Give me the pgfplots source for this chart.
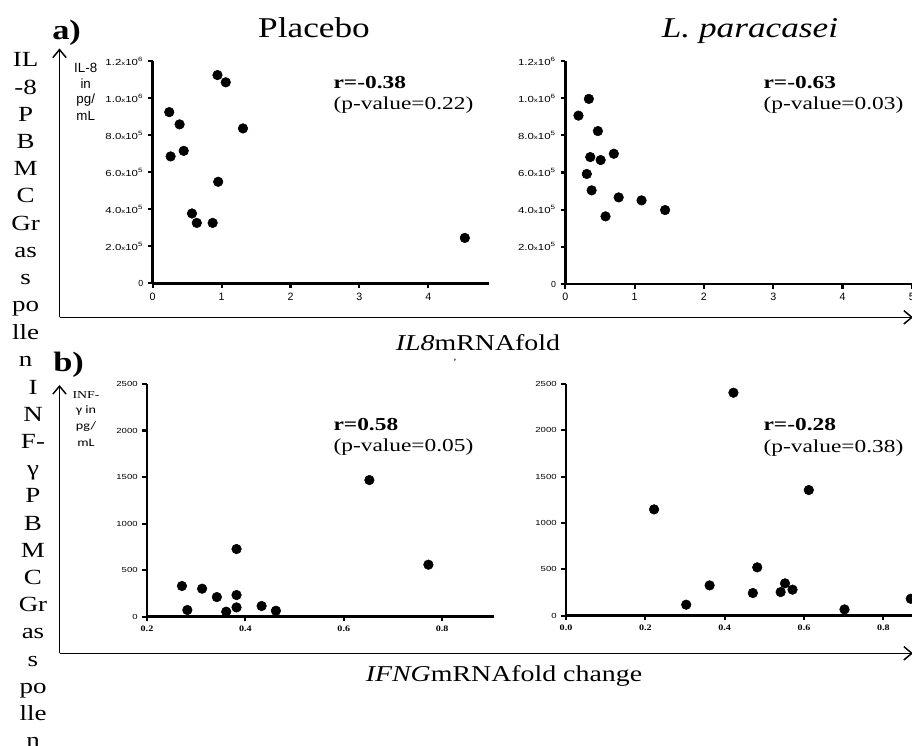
\documentclass[border=0pt]{standalone}
\usepackage{fontspec}
\setmainfont{Liberation Serif}
\setsansfont{Liberation Sans}
\newfontfamily\carlito{Carlito}
\usepackage{graphicx}
\usepackage{pgfplots}
\pgfplotsset{compat=1.18}
\usetikzlibrary{arrows.meta}

\newcommand\sx[2][1.23]{\scalebox{#1}[1]{#2}}
\newcommand\fs[1]{\fontsize{#1}{#1}\selectfont}
\newcommand\ylab[2]{\sx[1.3]{#1{\fs{4.5}x}10\textsuperscript{#2}}}

\pgfplotsset{
  panel/.style={
    scale only axis, anchor=south west,
    axis x line=bottom, axis y line=left,
    axis line style={-, line width=2.2pt, black},
    tick align=outside, major tick length=3.5pt,
    tick style={black, line width=1.6pt},
    minor tick num=0, clip=false,
    scaled y ticks=false, scaled x ticks=false,
    ymin=0,
  },
  dots/.style={only marks, mark=*, mark size=3.6pt, black, mark options={fill=black}},
}

\begin{document}
\begin{tikzpicture}
\path[use as bounding box] (0,0) rectangle (684pt,-558.75pt);

% a) Placebo
\begin{axis}[panel, at={(114.53pt,-212.48pt)}, width=252.45pt, height=166.73pt,
  xmin=0, xmax=4.885, ymax=1200000,
  xtick={0,1,2,3,4}, xticklabels={0,1,2,3,4},
  ytick={0,200000,400000,600000,800000,1000000,1200000},
  yticklabels={0,\ylab{2.0}{5},\ylab{4.0}{5},\ylab{6.0}{5},\ylab{8.0}{5},\ylab{1.0}{6},\ylab{1.2}{6}},
  xticklabel style={font=\sffamily\fs{8}},
  yticklabel style={font=\sffamily\fs{6.6}}]
\addplot[dots] coordinates {
  (0.94,1124000) (1.06,1085000) (0.24,924000) (0.39,858000)
  (1.31,836000) (0.45,715000) (0.26,685000) (0.95,548000)
  (0.57,377000) (0.64,326000) (0.87,326000) (4.53,245000)
};
\end{axis}

% a) L. paracasei
\begin{axis}[panel, at={(423.98pt,-213pt)}, width=259.88pt, height=167.25pt,
  xmin=0, xmax=5, ymax=1200000,
  xtick={0,1,2,3,4,5}, xticklabels={0,1,2,3,4,5},
  ytick={0,200000,400000,600000,800000,1000000,1200000},
  yticklabels={0,\ylab{2.0}{5},\ylab{4.0}{5},\ylab{6.0}{5},\ylab{8.0}{5},\ylab{1.0}{6},\ylab{1.2}{6}},
  xticklabel style={font=\sffamily\fs{8}},
  yticklabel style={font=\sffamily\fs{6.6}}]
\addplot[dots] coordinates {
  (0.34,996000) (0.19,906000) (0.47,823000) (0.36,683000)
  (0.51,667000) (0.70,701000) (0.31,592000) (0.38,504000)
  (0.77,466000) (1.10,450000) (0.58,364000) (1.44,398000)
};
\end{axis}

% b) Placebo
\begin{axis}[panel, at={(110.25pt,-462.53pt)}, width=260.48pt, height=174.53pt,
  xmin=0.2, xmax=0.906, ymax=2500,
  xtick={0.2,0.4,0.6,0.8}, xticklabels={\sx[1.2]{0.2},\sx[1.2]{0.4},\sx[1.2]{0.6},\sx[1.2]{0.8}},
  ytick={0,500,1000,1500,2000,2500},
  yticklabels={\sx[1.3]{0},\sx[1.3]{500},\sx[1.3]{1000},\sx[1.3]{1500},\sx[1.3]{2000},\sx[1.3]{2500}},
  xticklabel style={font=\bfseries\fs{6.3}},
  yticklabel style={font=\sffamily\fs{5.5}}]
\addplot[dots] coordinates {
  (0.271,330) (0.282,72) (0.312,301) (0.342,211)
  (0.361,54) (0.382,727) (0.382,233) (0.382,100)
  (0.433,115) (0.462,64) (0.652,1468) (0.772,559)
};
\end{axis}

% b) L. paracasei
\begin{axis}[panel, at={(424.5pt,-461.78pt)}, width=261.83pt, height=173.78pt,
  xmin=0, xmax=0.88, ymax=2500,
  xtick={0,0.2,0.4,0.6,0.8}, xticklabels={\sx[1.2]{0.0},\sx[1.2]{0.2},\sx[1.2]{0.4},\sx[1.2]{0.6},\sx[1.2]{0.8}},
  ytick={0,500,1000,1500,2000,2500},
  yticklabels={\sx[1.3]{0},\sx[1.3]{500},\sx[1.3]{1000},\sx[1.3]{1500},\sx[1.3]{2000},\sx[1.3]{2500}},
  xticklabel style={font=\bfseries\fs{6.3}},
  yticklabel style={font=\sffamily\fs{5.5}}]
\addplot[dots] coordinates {
  (0.422,2406) (0.222,1147) (0.612,1356) (0.482,522)
  (0.362,327) (0.303,119) (0.471,245) (0.541,255)
  (0.552,349) (0.571,281) (0.702,68) (0.869,183)
};
\end{axis}

\begin{scope}[x=0.75pt,y=-0.75pt]
  % frame arrows
  \draw[line width=1.1pt, -{Straight Barb[length=6pt,width=10pt]}] (59.5,317.3) -- (59.5,48.5);
  \draw[line width=1.1pt, -{Straight Barb[length=6pt,width=10pt]}] (59.5,317.3) -- (913,317.3);
  \draw[line width=1.1pt, -{Straight Barb[length=6pt,width=10pt]}] (59.5,653.3) -- (59.5,385);
  \draw[line width=1.1pt, -{Straight Barb[length=6pt,width=10pt]}] (59.5,653.3) -- (913,653.3);

  % panel letters and titles
  \node[anchor=base west, inner sep=0] at (52,39.3) {\fs{21}\bfseries\sx{a)}};
  \node[anchor=base west, inner sep=0] at (53,371.7) {\fs{21}\bfseries\sx{b)}};
  \node[anchor=base, inner sep=0] at (314,37.3) {\fs{21.5}\sx{Placebo}};
  \node[anchor=base, inner sep=0] at (750,37.3) {\fs{21.5}\itshape\sx{L. paracasei}};

  % correlation notes
  \node[anchor=base west, inner sep=0] at (333.3,88.3) {\fs{13.7}\bfseries\sx[1.28]{r=-0.38}};
  \node[anchor=base west, inner sep=0] at (333.3,110) {\fs{13.7}\sx[1.28]{(p-value=0.22)}};
  \node[anchor=base west, inner sep=0] at (763.3,88.3) {\fs{13.7}\bfseries\sx[1.28]{r=-0.63}};
  \node[anchor=base west, inner sep=0] at (763.3,110) {\fs{13.7}\sx[1.28]{(p-value=0.03)}};
  \node[anchor=base west, inner sep=0] at (333.3,430) {\fs{13.7}\bfseries\sx[1.28]{r=0.58}};
  \node[anchor=base west, inner sep=0] at (333.3,451.7) {\fs{13.7}\sx[1.28]{(p-value=0.05)}};
  \node[anchor=base west, inner sep=0] at (763.3,430) {\fs{13.7}\bfseries\sx[1.28]{r=-0.28}};
  \node[anchor=base west, inner sep=0] at (763.3,452.5) {\fs{13.7}\sx[1.28]{(p-value=0.38)}};

  % x axis titles
  \node[anchor=base, inner sep=0] at (478,350) {\fs{17}\sx{\textit{IL8}mRNAfold}};
  \node[inner sep=0] at (455,362) {\fs{6}\bfseries'};
  \node[anchor=base, inner sep=0] at (504,681.7) {\fs{17}\sx{\textit{IFNG}mRNAfold change}};

  % y axis units
  \node[anchor=base, inner sep=0] at (85.7,72.7) {\sffamily\fs{10}IL-8};
  \node[anchor=base, inner sep=0] at (85.7,88.3) {\sffamily\fs{10}in};
  \node[anchor=base, inner sep=0] at (85.7,104) {\sffamily\fs{10}pg/};
  \node[anchor=base, inner sep=0] at (85.7,120.7) {\sffamily\fs{10}mL};
  \node[anchor=base, inner sep=0] at (86,398.3) {\fs{8}\sx[1.3]{INF-}};
  \node[anchor=base, inner sep=0] at (86,413.3) {\carlito\fs{8.5}\sx[1.25]{γ in}};
  \node[anchor=base, inner sep=0] at (86,429) {\carlito\fs{8.5}\sx[1.25]{pg/}};
  \node[anchor=base, inner sep=0] at (86,446.7) {\carlito\fs{8.5}\sx[1.25]{mL}};

  % stacked side labels
  \foreach \t [count=\i from 0] in {IL,-8,P,B,M,C,Gr,as,s,po,lle,n}
    \node[anchor=base, inner sep=0] at (25.7,{67+\i*27.2}) {\fs{16.2}\sx[1.25]{\t}};
  \foreach \t [count=\i from 0] in {I,N,F-,γ,P,B,M,C,Gr,as,s,po,lle,n}
    \node[anchor=base, inner sep=0] at (33,{394+\i*27.2}) {\fs{16.2}\sx[1.25]{\t}};
\end{scope}
\end{tikzpicture}
\end{document}
